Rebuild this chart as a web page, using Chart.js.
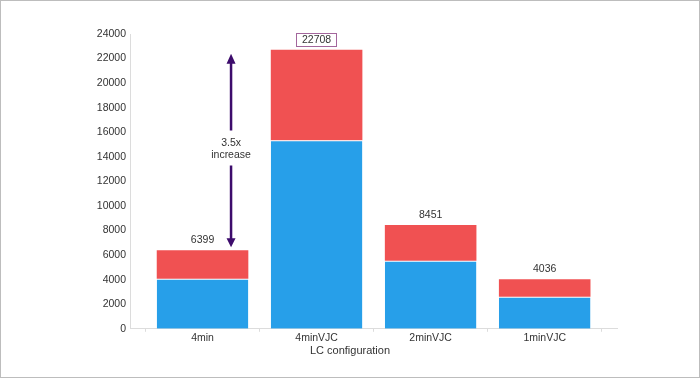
<!DOCTYPE html>
<html>
<head>
<meta charset="utf-8">
<script src="https://cdn.jsdelivr.net/npm/chart.js@4"></script>
<style>
  html, body { margin: 0; padding: 0; background: #fff; }
  #wrap { position: relative; width: 700px; height: 378px; }
  #frame { position: absolute; left: 0; top: 0; width: 700px; height: 378px;
           box-sizing: border-box; border: 1px solid #bdbdbd; pointer-events: none; }
</style>
</head>
<body>
<div id="wrap">
  <canvas id="chart"></canvas>
  <div id="frame"></div>
</div>
<script>
const categories = ['4min', '4minVJC', '2minVJC', '1minVJC'];
const blueValues = [4080, 15350, 5550, 2610];
const redValues  = [2319, 7358, 2901, 1426];
const totals     = [6399, 22708, 8451, 4036];
const boxedIndex = 1;
const arrowFrom  = 6399;
const arrowTo    = 22708;
const arrowLines = ['3.5x', 'increase'];

const FONT = '"Liberation Sans Narrow", "Liberation Sans", Arial, sans-serif';
const TEXT = '#333333';

const labelsPlugin = {
  id: 'totals',
  afterDatasetsDraw(chart) {
    const ctx = chart.ctx;
    const top = chart.getDatasetMeta(1);
    ctx.save();
    ctx.font = `10.5px ${FONT}`;
    ctx.fillStyle = TEXT;
    ctx.textAlign = 'center';
    ctx.textBaseline = 'middle';
    top.data.forEach((bar, i) => {
      const y = bar.y - 10;
      const txt = String(totals[i]);
      if (i === boxedIndex) {
        const w = ctx.measureText(txt).width + 11;
        ctx.strokeStyle = '#a3669c';
        ctx.lineWidth = 1;
        ctx.strokeRect(Math.round(bar.x - w / 2) + 0.5, Math.round(y - 7) + 0.5, Math.round(w), 13);
      }
      ctx.fillText(txt, bar.x, y);
    });

    // double arrow between the two totals
    const x = chart.scales.x.getPixelForValue(0.25);
    const yTop = chart.scales.y.getPixelForValue(arrowTo) + 4;
    const yBot = chart.scales.y.getPixelForValue(arrowFrom) - 3;
    const mid = (yTop + yBot) / 2;
    const col = '#3d0c6c';
    ctx.strokeStyle = col;
    ctx.fillStyle = col;
    ctx.lineWidth = 2.5;
    ctx.beginPath();
    ctx.moveTo(x, yTop + 8); ctx.lineTo(x, mid - 20);
    ctx.moveTo(x, mid + 15); ctx.lineTo(x, yBot - 8);
    ctx.stroke();
    ctx.beginPath();
    ctx.moveTo(x, yTop); ctx.lineTo(x - 4.5, yTop + 10); ctx.lineTo(x + 4.5, yTop + 10); ctx.closePath();
    ctx.moveTo(x, yBot); ctx.lineTo(x - 4.5, yBot - 9); ctx.lineTo(x + 4.5, yBot - 9); ctx.closePath();
    ctx.fill();
    ctx.fillStyle = TEXT;
    ctx.fillText(arrowLines[0], x, mid - 7);
    ctx.fillText(arrowLines[1], x, mid + 5);
    ctx.restore();
  }
};

new Chart(document.getElementById('chart'), {
  type: 'bar',
  data: {
    datasets: [
      {
        label: 'base',
        data: categories.map((c, i) => ({ x: i, y: blueValues[i] })),
        backgroundColor: '#279fe9',
        borderColor: 'rgba(255,255,255,0.55)',
        borderWidth: { top: 1, left: 0, right: 0, bottom: 0 },
        borderSkipped: false,
        categoryPercentage: 1,
        barPercentage: 1.606,   // ticks every half unit, bars ~0.8 of a unit
      },
      {
        label: 'extra',
        data: categories.map((c, i) => ({ x: i, y: redValues[i] })),
        backgroundColor: '#f05152',
        categoryPercentage: 1,
        barPercentage: 1.606,
      },
    ],
  },
  plugins: [labelsPlugin],
  options: {
    responsive: true,
    maintainAspectRatio: false,
    animation: false,
    devicePixelRatio: 1,
    layout: { padding: { top: 34, left: 0, right: 0, bottom: 20 } },
    plugins: {
      legend: { display: false },
      tooltip: { enabled: false },
      title: {
        display: true,
        position: 'bottom',
        text: 'LC configuration',
        color: TEXT,
        font: { family: FONT, size: 11, weight: 'normal' },
        padding: { top: 0, bottom: 0 },
      },
    },
    scales: {
      x: {
        type: 'linear',
        stacked: true,
        offset: false,
        min: -0.636,
        max: 3.634,
        afterBuildTicks: (s) => {
          s.ticks = [-0.5, 0, 0.5, 1, 1.5, 2, 2.5, 3, 3.5].map(v => ({ value: v }));
        },
        afterFit: (s) => { s.height = 16; },
        ticks: {
          autoSkip: false,
          maxRotation: 0,
          padding: 0,
          color: TEXT,
          font: { family: FONT, size: 10.5 },
          callback: (v) => Number.isInteger(v) ? categories[v] : '',
        },
        grid: {
          offset: false,
          drawOnChartArea: false,
          tickLength: 3,
          tickColor: (ctx) => (ctx.tick && Number.isInteger(ctx.tick.value)) ? 'rgba(0,0,0,0)' : '#dcdcdc',
        },
        border: { display: true, color: '#dcdcdc' },
      },
      y: {
        stacked: true,
        min: 0,
        max: 24000,
        afterFit: (s) => { s.width = 130; },
        ticks: {
          stepSize: 2000,
          padding: 4,
          color: TEXT,
          font: { family: FONT, size: 10.5 },
          callback: (v) => String(v),
        },
        grid: { display: false, drawTicks: false },
        border: { display: true, color: '#dcdcdc' },
      },
      yRight: {
        position: 'right',
        display: true,
        afterFit: (s) => { s.width = 83; },
        ticks: { display: false },
        grid: { display: false, drawTicks: false },
        border: { display: false },
      },
    },
  },
});
</script>
</body>
</html>
